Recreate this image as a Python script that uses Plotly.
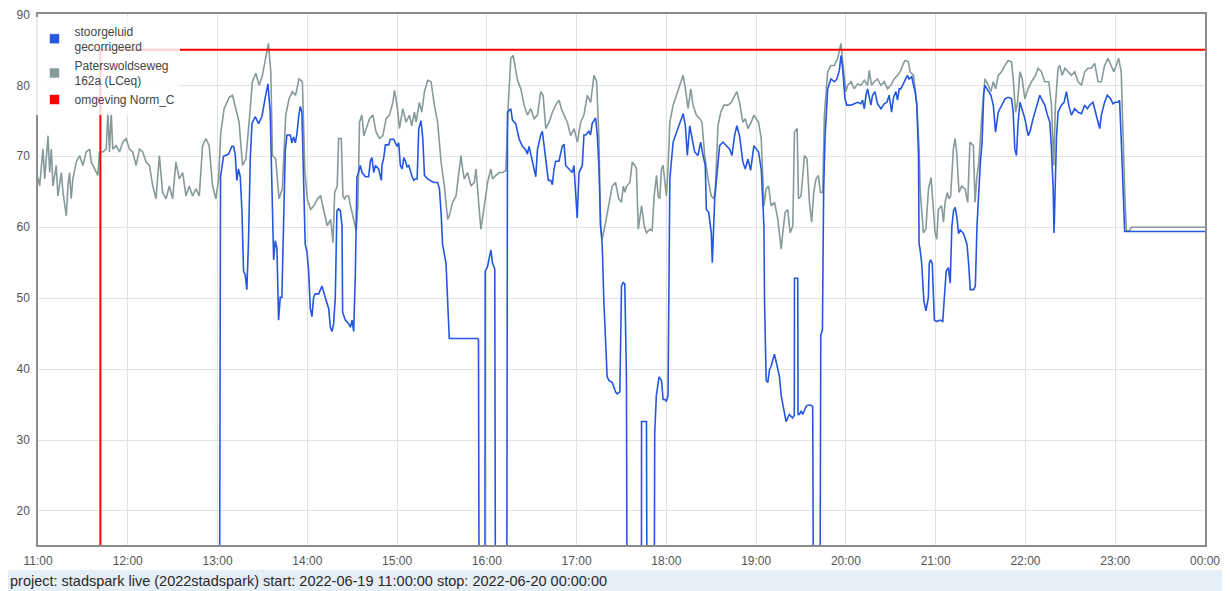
import pandas as pd
import plotly.graph_objects as go

START = "2022-06-19 11:00:00"
END = "2022-06-20 00:00:00"

# minutes after 11:00 and level in dB
gray_min = [0, 1.1, 3.3, 4.5, 6.7, 7.8, 8.9, 10.0, 12.2, 13.3, 15.6, 16.7, 18.9, 20.0, 21.1, 22.2, 23.3, 25.6, 27.8, 30.0,
            32.2, 34.5, 35.6, 37.8, 40.0, 41.1, 43.3, 45.6, 46.7, 47.8, 48.9, 50.0, 52.2, 54.5, 56.7, 58.9, 61.1, 63.3, 65.6, 67.8,
            70.0, 72.2, 74.5, 76.7, 78.9, 81.1, 83.3, 85.6, 87.8, 90.0, 92.2, 94.4, 96.7, 98.9, 101.1, 103.3, 105.6, 107.8, 110.0, 112.2,
            114.4, 116.7, 118.9, 120.7, 122.2, 124.4, 127.8, 130.0, 132.2, 134.4, 136.7, 138.9, 141.1, 143.3, 145.6, 147.8, 150.0, 152.2, 154.0, 155.6,
            156.7, 158.9, 161.1, 163.3, 165.6, 167.8, 170.0, 172.2, 174.4, 176.7, 178.4, 180.0, 182.2, 184.4, 186.7, 188.9, 191.1, 193.3, 195.6,
            196.0, 197.2, 198.3, 200.0, 200.9, 202.7, 203.8, 204.9, 206.0, 207.6, 208.9, 210.5, 212.7, 213.8, 214.9, 216.5, 217.8, 219.4, 221.6, 223.8,
            226.0, 228.3, 230.5, 232.7, 234.9, 237.2, 238.3, 240.0, 241.6, 243.8, 246.0, 248.3, 249.8, 251.6, 252.7, 254.9, 256.5, 258.3, 260.5, 262.7,
            264.9, 267.1, 269.4, 271.6, 273.8, 274.9, 277.1, 279.4, 281.6, 282.7, 283.8, 284.9, 287.1, 289.4, 291.6, 292.7, 293.8, 296.0, 298.3, 300.5,
            302.7, 303.8, 306.0, 308.3, 310.5, 312.7, 314.3, 316.0, 317.6, 319.4, 320.5, 322.7, 324.9, 327.1, 329.4, 331.6, 333.8, 336.0, 337.6, 339.4,
            341.6, 343.8, 346.0, 348.3, 349.8, 351.6, 353.8, 356.0, 358.3, 360.5, 362.7, 364.9, 367.1, 369.4, 371.6, 373.4, 374.9, 376.0, 377.1, 379.4,
            381.6, 383.8, 386.0, 388.2,
            390.0, 391.2, 392.3, 393.4, 395.6, 397.2, 398.9, 400.0, 401.2, 403.4, 405.2, 406.7, 408.9, 410.5, 411.8, 413.4, 414.5, 415.6, 416.7, 417.8,
            420.0, 421.2, 422.3, 424.5, 426.7, 428.9, 431.2, 432.7, 434.5, 436.3, 437.8, 440.0, 442.3, 443.8, 445.6, 447.8, 450.0, 451.6, 452.7, 454.5,
            456.3, 458.5, 461.2, 463.4, 465.6, 467.1, 468.9, 471.1, 472.7, 474.5, 476.7, 478.5, 480.0, 481.6, 483.4, 485.2, 486.7, 488.3, 490.0, 492.3,
            494.5, 496.7, 497.8, 499.4, 501.1, 502.7, 504.5, 505.6, 507.4, 508.3, 510.0, 512.3, 514.0, 515.6, 517.1, 518.5, 520.0, 521.6, 522.9, 524.5,
            525.6, 527.8, 530.0, 532.3, 534.5, 536.7, 538.5, 540.0, 541.1, 543.4, 545.6, 547.8, 550.0, 552.3, 554.5, 555.6, 557.1, 558.9, 561.1, 563.4,
            565.6, 567.8, 570.0, 572.3, 574.5, 576.7, 578.9,
            579.6, 581.8, 582.9, 585.2, 587.4, 588.9, 589.6, 590.7, 591.8, 593.4, 595.2, 596.9, 598.5, 599.6, 600.7, 601.8, 604.0, 605.2, 606.3, 607.8,
            608.9, 610.0, 611.8, 612.9, 614.0, 615.6, 617.4, 619.6, 621.4, 622.9, 625.2, 626.3, 627.4, 628.9, 630.7, 632.9, 635.2, 636.9, 638.5, 640.0,
            641.8, 644.0, 646.3, 648.5, 650.7, 651.8, 653.4, 654.7, 656.3, 657.8, 659.6, 661.8, 664.0, 666.7, 668.5, 670.7, 672.9, 675.6, 677.4, 678.9,
            680.0, 681.8, 682.9, 684.5, 686.3, 688.5, 690.7, 692.9, 695.2, 697.4, 699.6, 701.8, 704.0, 706.3, 708.5, 710.7, 712.9, 715.1, 717.4, 719.1,
            720.7, 722.3, 724.0, 725.1, 726.3, 727.4, 729.6, 730.7, 780.0]
gray_db = [67.0, 65.8, 71.0, 66.8, 72.9, 67.7, 71.0, 65.8, 68.7, 64.4, 67.7, 64.9, 61.6, 65.8, 67.7, 64.0, 66.8, 69.2, 70.1, 68.7,
           70.6, 71.0, 69.2, 68.2, 67.3, 70.6, 70.6, 71.0, 76.2, 70.6, 76.2, 71.0, 71.5, 70.6, 72.0, 72.5, 71.0, 70.6, 68.7, 71.0,
           70.6, 69.2, 68.7, 65.8, 64.0, 70.1, 64.9, 64.0, 65.8, 64.0, 69.2, 66.8, 67.7, 64.4, 65.8, 64.4, 65.4, 64.4, 71.5, 72.5,
           71.5, 65.8, 64.0, 66.8, 73.4, 76.7, 78.3, 78.6, 76.7, 74.8, 68.7, 69.6, 74.8, 80.5, 81.7, 80.0, 81.4, 83.8, 85.9, 81.9,
           70.1, 69.6, 64.0, 65.4, 75.8, 78.1, 79.1, 78.6, 80.9, 80.5, 67.7, 64.0, 62.5, 63.0, 64.0, 64.4, 62.1, 60.2, 61.1,
           60.2, 57.8, 64.9, 65.8, 72.5, 72.5, 64.4, 64.0, 64.4, 64.4, 63.0, 61.6, 59.5, 63.0, 74.8, 75.8, 72.9, 73.9, 75.3, 75.8,
           73.4, 72.5, 72.9, 75.3, 75.8, 77.6, 79.3, 77.2, 73.9, 76.7, 74.8, 75.8, 74.3, 76.2, 74.8, 77.6, 76.2, 79.1, 80.7, 80.5,
           77.2, 74.8, 69.2, 65.8, 61.1, 61.6, 63.5, 64.4, 68.7, 70.1, 68.2, 66.8, 67.7, 65.8, 66.3, 68.2, 65.4, 59.7, 63.0, 66.3,
           68.2, 66.8, 67.3, 67.7, 67.7, 68.0, 77.2, 83.8, 84.2, 81.9, 80.7, 79.5, 77.2, 75.8, 76.7, 75.3, 75.8, 79.1, 78.6, 73.9,
           74.8, 76.2, 77.2, 77.9, 76.7, 75.8, 74.8, 72.9, 73.9, 72.0, 74.8, 75.8, 78.6, 77.6, 81.4, 80.5, 72.5, 60.2, 58.3, 60.7,
           63.0, 65.8, 66.3, 64.0,
           63.5, 65.8, 64.9, 65.8, 66.3, 69.2, 68.7, 68.2, 59.7, 63.0, 60.2, 59.2, 59.7, 59.5, 64.4, 67.3, 64.4, 64.0, 68.2, 68.7,
           64.4, 68.7, 74.8, 77.2, 78.6, 80.0, 81.4, 79.5, 76.7, 79.5, 77.2, 75.8, 75.3, 74.8, 70.1, 66.8, 64.4, 64.0, 65.4, 74.3,
           76.2, 77.2, 77.2, 77.6, 78.6, 79.1, 77.6, 74.8, 75.3, 73.9, 74.8, 75.8, 75.3, 74.8, 72.5, 63.0, 65.4, 65.8, 63.0, 63.5,
           61.1, 56.9, 59.2, 62.1, 62.5, 59.2, 60.2, 73.4, 73.9, 64.0, 64.4, 70.1, 69.6, 63.5, 60.7, 64.9, 66.8, 67.3, 64.9, 64.9,
           75.8, 81.9, 82.8, 82.8, 83.8, 85.9, 81.9, 79.1, 80.0, 80.5, 79.5, 80.2, 80.0, 80.7, 80.0, 82.1, 80.0, 80.5, 80.9, 80.0,
           80.5, 79.5, 80.0, 80.9, 81.4, 82.1, 83.3,
           83.5, 83.3, 81.9, 81.4, 77.2, 71.0, 65.4, 62.1, 59.2, 59.7, 65.4, 67.0, 63.0, 59.2, 58.3, 62.5, 63.0, 60.7, 63.5, 64.9,
           64.0, 64.4, 71.0, 72.5, 70.6, 64.9, 65.8, 65.4, 63.5, 72.0, 71.5, 63.5, 66.8, 69.2, 75.3, 80.9, 80.0, 79.1, 80.5, 79.5,
           81.4, 81.9, 82.8, 83.5, 83.3, 80.9, 76.2, 77.6, 81.9, 80.9, 78.1, 79.5, 80.5, 81.4, 82.4, 81.9, 80.5, 80.5, 77.2, 68.7,
           77.2, 82.4, 82.8, 81.4, 82.4, 81.9, 81.4, 81.9, 80.5, 80.0, 81.9, 82.4, 82.4, 83.1, 80.5, 80.5, 82.8, 83.8, 82.8, 81.9,
           82.8, 83.8, 81.9, 72.5, 65.4, 59.5, 59.5, 60.0, 60.0]

blue_min = [121.3, 122.0, 124.0, 127.4, 129.6, 130.7, 131.8, 132.9, 134.0, 135.2, 136.3, 137.4, 138.5, 139.6, 140.7, 141.9, 143.0, 145.2, 147.4, 149.7,
            151.9, 153.7, 155.2, 156.8, 157.5, 158.6, 159.7, 160.8, 161.9, 163.0, 164.2, 165.3, 166.4, 168.6, 169.7, 170.8, 172.0, 173.1, 174.2, 175.3,
            176.4, 177.5, 178.6, 179.8, 180.9, 182.0, 183.1, 184.2, 185.3, 187.6, 189.8, 192.0, 194.3, 195.4, 196.5, 197.6, 198.7, 199.8, 200.9, 202.1,
            203.2, 203.6, 205.4, 207.6, 208.8, 209.9, 211.0, 212.1, 213.2, 214.3, 215.4, 216.6, 218.8, 221.0, 222.1, 223.2, 224.4, 225.5, 227.7, 229.5,
            229.9, 231.1, 232.2, 234.4, 235.5, 237.7, 238.9, 240.0, 241.1, 242.2, 243.4, 244.5, 245.6, 246.7, 247.8, 249.0, 250.1, 251.2,
            252.0, 253.4, 254.5, 256.0, 257.2, 258.3, 260.5, 262.7, 264.9, 267.1, 268.3, 269.4, 270.4, 272.7, 273.8, 274.9, 293.8, 294.4, 294.9, 298.7,
            298.9, 300.4, 302.7, 303.8, 305.3, 305.8, 313.3, 313.8, 316.0, 317.1, 319.3, 321.6, 323.8, 326.0, 327.1, 328.2, 330.4, 332.7, 333.8, 336.0,
            337.1, 339.3, 341.1, 342.7, 343.8, 344.9, 346.0, 348.2, 350.4, 351.6, 352.7, 354.9, 357.1, 358.2, 359.3, 360.4, 361.6, 362.7, 363.8, 364.9,
            366.0, 368.2, 369.3, 370.4, 372.7, 373.8, 374.9, 376.0, 377.1, 378.2, 379.3, 380.4, 381.6, 383.8, 386.0, 387.1, 388.9, 390.0, 391.1, 392.2,
            393.3, 393.8, 403.3, 403.4, 406.7, 407.1, 411.8, 412.2, 413.3, 415.1, 416.7, 417.8, 418.9, 420.0, 421.1,
            422.3, 424.5, 426.7, 428.9, 431.2, 432.7, 434.0, 435.6, 437.2, 438.9, 441.1, 442.9, 444.5, 446.0, 446.7, 448.3, 450.0, 450.7, 452.3, 453.4,
            455.6, 457.8, 460.0, 462.3, 463.8, 465.6, 467.1, 468.9, 471.1, 472.7, 474.5, 476.3, 478.5, 480.0, 481.6, 483.4, 485.2,
            485.6, 486.7, 487.8, 488.9, 490.0, 492.2, 493.3, 495.6, 496.7, 498.9, 500.0, 502.2, 504.4, 505.5, 505.6, 507.8, 508.0, 508.9, 510.0, 511.1,
            513.3, 514.4, 516.7, 517.8, 518.4, 522.6, 523.2, 524.3, 525.1, 526.0, 527.8, 530.0, 532.3, 534.0, 535.6, 536.7, 537.8, 539.4, 540.5, 541.1,
            543.4, 545.6, 547.8, 550.0, 551.1, 552.3, 553.4, 554.5, 555.6, 556.7, 557.8, 559.4, 561.1, 563.4, 565.6, 567.4, 568.9, 570.5, 571.8, 573.4,
            574.5, 575.6, 576.7, 578.9, 581.1, 582.2,
            584.0, 585.2, 586.3, 587.4, 588.5, 588.9, 589.4, 590.6, 592.1, 593.5, 595.1, 595.7, 596.6, 597.7, 598.4, 599.1, 600.7, 602.9, 604.7, 605.6,
            607.0, 608.5, 609.7, 610.8, 611.9, 613.0, 614.2, 615.3, 616.4, 618.6, 620.9, 622.0, 623.1, 625.4, 626.5, 627.6, 628.8, 629.9, 631.0, 632.1,
            632.9, 635.2, 636.9, 638.5, 640.0, 641.8, 644.0, 646.3, 648.5, 650.7, 651.8, 652.9, 654.0, 655.1, 656.3, 657.8, 659.6, 661.8, 662.9, 665.1,
            667.4, 669.6, 670.7, 672.9, 674.7, 676.3, 677.4, 678.5, 679.1, 680.0, 680.7, 681.8, 684.0, 685.8, 687.4, 688.9, 690.7, 692.9, 695.2, 697.4,
            699.6, 701.4, 702.9, 705.1, 706.3, 708.0, 709.6, 710.7, 712.9, 714.7, 716.9, 718.5, 720.0, 721.8, 722.9, 724.0, 725.1, 726.3, 780.0]
blue_db = [0, 67.1, 70.0, 70.3, 71.4, 71.4, 70.3, 66.6, 68.2, 67.1, 62.3, 53.8, 53.3, 51.2, 58.1, 69.8, 74.6, 75.6, 74.6, 75.6,
           78.3, 80.2, 76.2, 59.1, 55.4, 58.1, 57.0, 46.9, 50.1, 50.1, 62.3, 70.9, 73.0, 73.0, 71.9, 72.7, 71.9, 73.2, 75.6, 77.0,
           76.2, 68.2, 57.6, 56.5, 53.8, 48.5, 47.4, 50.1, 50.6, 50.6, 51.7, 50.1, 48.5, 45.9, 45.3, 46.4, 50.1, 62.3, 62.6, 62.3,
           60.2, 48.0, 46.9, 46.4, 45.9, 46.9, 45.3, 53.3, 67.1, 67.7, 68.7, 67.7, 67.1, 67.1, 69.3, 69.8, 67.7, 68.7, 68.2, 66.6,
           68.7, 69.8, 71.6, 71.6, 72.4, 72.4, 71.9, 71.4, 71.9, 68.7, 68.2, 69.8, 69.3, 68.5, 68.7, 67.7, 67.1, 66.6,
           66.8, 66.8, 73.9, 75.0, 72.5, 67.3, 66.8, 66.5, 66.3, 66.3, 65.4, 62.1, 57.6, 54.9, 49.7, 44.3, 44.3, 44.2, 0, 0,
           53.8, 54.4, 56.8, 54.9, 54.1, 0, 0, 76.2, 76.7, 75.1, 74.6, 72.4, 71.4, 70.9, 70.3, 71.4, 69.3, 67.1, 70.9, 73.0,
           73.5, 69.8, 66.6, 66.6, 66.0, 68.2, 69.3, 69.3, 71.4, 71.7, 68.7, 68.2, 67.7, 68.7, 65.5, 61.3, 67.7, 68.2, 68.7, 73.0,
           73.0, 73.5, 73.0, 74.6, 75.4, 73.0, 68.7, 60.2, 57.6, 49.6, 43.2, 38.9, 38.4, 38.1, 36.8, 36.5, 36.8, 51.7, 52.2, 52.0,
           38.9, 0, 0, 32.6, 32.6, 0, 0, 31.0, 36.3, 38.9, 38.4, 35.7, 35.7, 35.5, 36.3,
           66.8, 72.0, 73.4, 74.8, 76.0, 74.3, 70.1, 74.3, 72.5, 70.6, 70.1, 72.0, 70.1, 68.7, 62.5, 62.1, 59.2, 55.0, 64.0, 66.3,
           71.5, 72.0, 71.5, 71.0, 70.1, 72.9, 74.3, 72.9, 69.2, 68.2, 69.6, 68.0, 71.5, 71.0, 70.6, 68.2, 60.2,
           49.6, 38.4, 38.1, 39.9, 40.4, 42.1, 41.1, 38.9, 36.3, 33.6, 32.6, 33.6, 33.1, 33.5, 52.8, 52.8, 33.6, 33.6, 34.1, 33.6,
           34.7, 34.9, 34.9, 34.7, 0, 0, 44.8, 45.5, 65.0, 72.5, 79.5, 80.9, 80.5, 80.9, 82.1, 84.2, 82.4, 78.1, 77.2, 77.2,
           77.2, 77.4, 77.6, 77.4, 77.9, 76.7, 78.6, 79.5, 78.3, 77.2, 78.6, 79.1, 77.4, 76.7, 77.4, 77.6, 78.6, 76.2, 78.3, 79.1,
           77.9, 79.5, 79.5, 80.5, 81.4, 80.9,
           81.2, 80.0, 79.1, 77.2, 70.1, 57.6, 57.1, 55.0, 49.6, 48.2, 50.1, 54.9, 55.4, 54.9, 50.1, 46.9, 46.7, 46.9, 46.7, 49.6,
           53.8, 54.3, 52.1, 60.1, 62.3, 62.8, 61.3, 59.1, 59.6, 59.1, 57.6, 54.9, 51.2, 51.2, 51.7, 60.2, 65.5, 69.3, 71.9, 78.8,
           80.0, 79.1, 78.6, 77.2, 73.4, 76.2, 77.2, 78.1, 78.3, 78.1, 76.2, 71.0, 70.1, 74.8, 77.6, 76.7, 75.3, 72.9, 73.4, 75.3,
           77.2, 78.6, 78.1, 77.2, 75.8, 74.8, 71.0, 65.4, 59.2, 67.7, 72.5, 76.2, 77.2, 77.6, 79.1, 77.2, 75.8, 76.7, 76.2, 76.0,
           77.2, 76.7, 77.2, 77.6, 76.7, 75.3, 73.9, 75.8, 77.6, 78.6, 78.1, 77.4, 77.6, 77.6, 77.9, 72.5, 65.4, 59.4, 59.4]

norm_min = [0, 41.7, 780.0]
norm_db = [0, 85, 85]

series_names = ["stoorgeluid<br>gecorrigeerd", "Paterswoldseweg<br>162a (LCeq)", "omgeving Norm_C"]
series_colors = ["#2457e0", "#879a9a", "#ff0000"]
y_ticks = [20, 30, 40, 50, 60, 70, 80, 90]
footer = "project: stadspark live (2022stadspark) start: 2022-06-19 11:00:00 stop: 2022-06-20 00:00:00"

base = pd.Timestamp(START)


def to_time(mins):
    return base + pd.to_timedelta(pd.Series(mins, dtype=float), unit="m")


fig = go.Figure()
fig.add_trace(go.Scatter(x=to_time(gray_min), y=gray_db, mode="lines", showlegend=False,
                         line=dict(color=series_colors[1], width=1.6), hoverinfo="skip"))
fig.add_trace(go.Scatter(x=to_time(blue_min), y=blue_db, mode="lines", showlegend=False,
                         line=dict(color=series_colors[0], width=1.6), hoverinfo="skip"))
fig.add_trace(go.Scatter(x=to_time(norm_min), y=norm_db, mode="lines", showlegend=False,
                         line=dict(color=series_colors[2], width=2, shape="hv"), hoverinfo="skip"))

for i, (n, c) in enumerate(zip(series_names, series_colors)):
    fig.add_trace(go.Scatter(x=[None], y=[None], mode="markers", name=n, legendrank=i + 1,
                             marker=dict(symbol="square", size=10, color=c,
                                         line=dict(color="rgba(255,255,255,0.6)", width=1))))

axis_common = dict(showgrid=True, gridcolor="#e2e2e2", gridwidth=1, showline=True, mirror=True,
                   linecolor="#8c8c8c", linewidth=1.5, zeroline=False, automargin=False,
                   ticks="outside", ticklen=4, tickcolor="rgba(0,0,0,0)", ticklabeloverflow="allow",
                   tickfont=dict(family="Liberation Sans, Arial, sans-serif", size=12, color="#555555"))

# the page body adds an 8 px offset, so the figure is 8 px smaller and margins compensate
fig.update_layout(
    template="none",
    width=1222, height=583,
    margin=dict(l=30, r=25, t=6, b=46),
    paper_bgcolor="white", plot_bgcolor="white",
    xaxis=dict(type="date", range=[START, END], dtick=3600000, tickformat="%H:%M", **axis_common),
    yaxis=dict(range=[15.2, 90.05], tickvals=y_ticks, **axis_common),
    legend=dict(x=-0.003, y=0.995, xanchor="left", yanchor="top", bgcolor="rgba(255,255,255,0.82)",
                font=dict(family="Liberation Sans, Arial, sans-serif", size=12, color="#444444"),
                tracegroupgap=0, itemwidth=30),
    shapes=[dict(type="rect", xref="paper", yref="paper", x0=-0.0326, x1=1.0146, y0=-0.0866, y1=-0.0471,
                 fillcolor="#e6eef6", line=dict(width=0), layer="below")],
    annotations=[dict(text=footer, xref="paper", yref="paper", x=-0.0257, y=-0.0678, xanchor="left",
                      yanchor="middle", showarrow=False,
                      font=dict(family="Liberation Sans, Arial, sans-serif", size=14.5, color="#2a2a2a"))],
)

fig.write_html("out.html")
